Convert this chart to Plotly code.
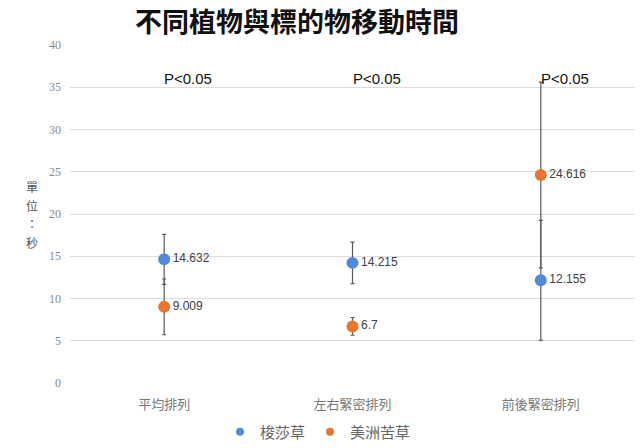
import plotly.graph_objects as go

categories = ["平均排列", "左右緊密排列", "前後緊密排列"]
series_names = ["梭莎草", "美洲苦草"]
blue_values = [14.632, 14.215, 12.155]
blue_errors = [2.95, 2.45, 7.1]
orange_values = [9.009, 6.7, 24.616]
orange_errors = [3.3, 1.05, 11.0]
p_labels = ["P<0.05", "P<0.05", "P<0.05"]
y_ticks = [0, 5, 10, 15, 20, 25, 30, 35, 40]
y_title_chars = ["單", "位", "：", "秒"]

xs = list(range(len(categories)))
font_cjk = "Noto Sans CJK TC"
colors = ["#4f8bd8", "#e8762e"]

W, H = 642, 448
L, R, T, B = 70, 7, 45, 65
PW, PH = W - L - R, H - T - B

fig = go.Figure()
for name, vals, errs, col in [(series_names[0], blue_values, blue_errors, colors[0]),
                              (series_names[1], orange_values, orange_errors, colors[1])]:
    fig.add_trace(go.Scatter(
        x=xs, y=vals, mode="markers+text", name=name, showlegend=False,
        marker=dict(color=col, size=12),
        text=[f"{v:g}" for v in vals], textposition="middle right",
        textfont=dict(family="Liberation Sans, Arial", size=12, color="#404040"),
        error_y=dict(type="data", array=errs, visible=True,
                     color="#5a5a5a", thickness=1.2, width=2),
    ))
# legend entries with smaller symbols
for name, col in zip(series_names, colors):
    fig.add_trace(go.Scatter(x=[None], y=[None], mode="markers", name=name,
                             marker=dict(color=col, size=8)))

for i, p in enumerate(p_labels):
    fig.add_annotation(x=xs[i], y=36.0, xref="x", yref="y", text=p.replace("<", "&lt;"),
                       showarrow=False, xanchor="left", xshift=-2,
                       font=dict(family="Liberation Sans, Arial", size=15, color="#111111"))

char_px = [186, 205, 223, 242]
for ch, py in zip(y_title_chars, char_px):
    fig.add_annotation(x=(32 - L) / PW, y=(H - B - py) / PH, xref="paper", yref="paper",
                       text=ch, showarrow=False, xanchor="center", yanchor="middle",
                       font=dict(family=font_cjk, size=12, color="#555555"))

fig.update_layout(
    width=W, height=H,
    margin=dict(l=L, r=R, t=T, b=B, autoexpand=False),
    paper_bgcolor="white", plot_bgcolor="white",
    title=dict(text="<b>不同植物與標的物移動時間</b>", x=297 / W, xref="container",
               y=1 - 23 / H, yref="container", yanchor="middle", xanchor="center",
               font=dict(family=font_cjk, size=27, color="#111111")),
    showlegend=True,
    legend=dict(orientation="h", x=318 / W, xanchor="center", y=1 - 432 / H, yanchor="middle",
                yref="container", xref="container",
                font=dict(family=font_cjk, size=15, color="#666666"),
                itemwidth=30, tracegroupgap=0),
    xaxis=dict(range=[-0.5, 2.5], tickvals=xs, ticktext=categories,
               showgrid=False, zeroline=False, showline=False, ticks="",
               tickfont=dict(family=font_cjk, size=13, color="#777777"),
               ticklabelstandoff=12),
    yaxis=dict(range=[0, 40], tickvals=y_ticks, showgrid=True, gridcolor="#dcdcdc",
               gridwidth=1, zeroline=False, showline=False, ticks="",
               tickfont=dict(family="Liberation Serif, serif", size=12, color="#888888"),
               ticklabelstandoff=8),
)

fig.write_html("out.html")
